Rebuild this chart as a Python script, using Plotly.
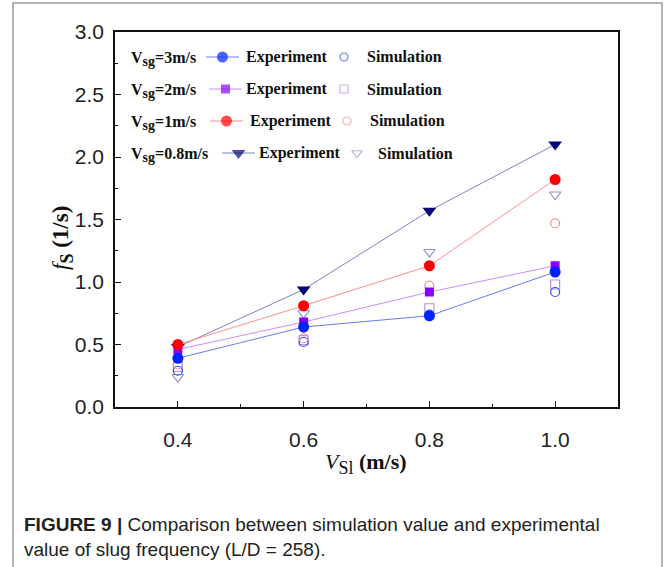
import plotly.graph_objects as go

# ---------------- data ----------------
vsl = [0.4, 0.6, 0.8, 1.0]

exp_vsg3 = [0.39, 0.64, 0.73, 1.08]
sim_vsg3 = [0.29, 0.52, 0.74, 0.92]

exp_vsg2 = [0.46, 0.68, 0.92, 1.13]
sim_vsg2 = [0.32, 0.535, 0.79, 0.98]

exp_vsg1 = [0.50, 0.81, 1.13, 1.82]
sim_vsg1 = [0.34, 0.55, 0.97, 1.47]

exp_vsg08 = [0.48, 0.94, 1.57, 2.10]
sim_vsg08 = [0.24, 0.75, 1.24, 1.70]

legend_vsg = ["3m/s", "2m/s", "1m/s", "0.8m/s"]

x_ticks = [0.4, 0.6, 0.8, 1.0]
y_ticks = [0.0, 0.5, 1.0, 1.5, 2.0, 2.5, 3.0]

# ---------------- styles ----------------
W_FIG, H_FIG = 665, 567
L, R, T, B = 115, 618, 32, 407
SERIF = "Liberation Serif, Times New Roman, serif"
SANS = "Liberation Sans, Arial, sans-serif"

series = [
    dict(exp=exp_vsg08, sim=sim_vsg08, sym="triangle-down", osym="triangle-down-open",
         mc="#05057a", lc="#8181c4", sc="#8f8fc6", ms=12, oms=10),
    dict(exp=exp_vsg2, sim=sim_vsg2, sym="square", osym="square-open",
         mc="#8a00ff", lc="#c98cff", sc="#b98ee6", ms=9, oms=9),
    dict(exp=exp_vsg3, sim=sim_vsg3, sym="circle", osym="circle-open",
         mc="#0022ff", lc="#6a7cf2", sc="#2d4cff", ms=11, oms=9),
    dict(exp=exp_vsg1, sim=sim_vsg1, sym="circle", osym="circle-open",
         mc="#ff0000", lc="#ff8f8f", sc="#f08a8a", ms=11, oms=9),
]

fig = go.Figure()

for s in series:
    fig.add_trace(go.Scatter(x=vsl, y=s["sim"], mode="markers", showlegend=False,
                             marker=dict(symbol=s["osym"], size=s["oms"], color=s["sc"],
                                         line=dict(width=1.2, color=s["sc"]))))
for s in series:
    fig.add_trace(go.Scatter(x=vsl, y=s["exp"], mode="lines+markers", showlegend=False,
                             line=dict(color=s["lc"], width=1),
                             marker=dict(symbol=s["sym"], size=s["ms"], color=s["mc"],
                                         line=dict(width=0))))


def px(x):
    return (x - L) / (R - L)


def py(y):
    return (B - y) / (B - T)


# ---------------- legend ----------------
leg_rows = [
    dict(si=2, y=57, lx0=206, lx1=239, ex=244, ox=344, sx=365),
    dict(si=1, y=89, lx0=209, lx1=242, ex=244, ox=344, sx=365),
    dict(si=3, y=121, lx0=210, lx1=243, ex=248, ox=347, sx=368),
    dict(si=0, y=153, lx0=222, lx1=255, ex=257, ox=357, sx=376),
]
annotations = []
shapes = []
LEG_FONT = dict(family=SERIF, size=16, color="#111")
key_x, key_y, key_sym, key_col, key_size = [], [], [], [], []
okey_x, okey_y, okey_sym, okey_col, okey_size = [], [], [], [], []
for lab, row in zip(legend_vsg, leg_rows):
    s = series[row["si"]]
    shapes.append(dict(type="line", xref="paper", yref="paper", layer="below",
                       x0=px(row["lx0"]), x1=px(row["lx1"]),
                       y0=py(row["y"]), y1=py(row["y"]),
                       line=dict(color=s["lc"], width=1)))
    key_x.append((row["lx0"] + row["lx1"]) / 2)
    key_y.append(row["y"])
    key_sym.append(s["sym"])
    key_col.append(s["mc"])
    key_size.append(s["ms"])
    okey_x.append(row["ox"])
    okey_y.append(row["y"])
    okey_sym.append(s["osym"])
    okey_col.append(s["sc"])
    okey_size.append(s["oms"] - 1)
    annotations.append(dict(x=px(129), y=py(row["y"] + 2), xref="paper", yref="paper",
                            xanchor="left", yanchor="middle", showarrow=False,
                            text="<b>V<sub><span style='font-size:14px'>sg</span></sub>=" + lab + "</b>",
                            font=LEG_FONT))
    annotations.append(dict(x=px(row["ex"]), y=py(row["y"]), xref="paper", yref="paper",
                            xanchor="left", yanchor="middle", showarrow=False,
                            text="<b>Experiment</b>", font=LEG_FONT))
    annotations.append(dict(x=px(row["sx"]), y=py(row["y"]), xref="paper", yref="paper",
                            xanchor="left", yanchor="middle", showarrow=False,
                            text="<b>Simulation</b>", font=LEG_FONT))

fig.add_trace(go.Scatter(x=key_x, y=key_y, mode="markers", xaxis="x2", yaxis="y2",
                         marker=dict(symbol=key_sym, size=key_size, color=key_col,
                                     line=dict(width=0)),
                         showlegend=False, hoverinfo="skip"))
fig.add_trace(go.Scatter(x=okey_x, y=okey_y, mode="markers", xaxis="x2", yaxis="y2",
                         marker=dict(symbol=okey_sym, size=okey_size, color=okey_col,
                                     line=dict(width=1.2, color=okey_col)),
                         showlegend=False, hoverinfo="skip"))

# axis titles
annotations.append(dict(x=px(62), y=py(238), xref="paper", yref="paper", showarrow=False,
                        textangle=-90, xanchor="center", yanchor="middle",
                        text="<i>f</i><sub><b><span style='font-size:18px'>S</span></b></sub> <b>(1/s)</b>",
                        font=dict(family=SERIF, size=23, color="#111")))
annotations.append(dict(x=px(366), y=py(464), xref="paper", yref="paper", showarrow=False,
                        xanchor="center", yanchor="middle",
                        text="<i>V</i><sub><span style='font-size:18px'>Sl</span></sub> <b>(m/s)</b>",
                        font=dict(family=SERIF, size=22, color="#111")))
# caption
annotations.append(dict(x=px(22), y=py(524), xref="paper", yref="paper", showarrow=False,
                        xanchor="left", yanchor="middle",
                        text="<b>FIGURE 9 |</b> Comparison between simulation value and experimental",
                        font=dict(family=SANS, size=19, color="#222")))
annotations.append(dict(x=px(22), y=py(549), xref="paper", yref="paper", showarrow=False,
                        xanchor="left", yanchor="middle",
                        text="value of slug frequency (L/D = 258).",
                        font=dict(family=SANS, size=19, color="#222")))

shapes.append(dict(type="rect", xref="paper", yref="paper", x0=px(13), x1=px(662),
                   y0=py(600), y1=py(3), line=dict(color="#9a9a9a", width=1.5),
                   fillcolor="rgba(0,0,0,0)", layer="below"))

fig.update_layout(
    width=W_FIG, height=H_FIG,
    margin=dict(l=L, r=W_FIG - R, t=T, b=H_FIG - B, pad=0),
    paper_bgcolor="white", plot_bgcolor="rgba(0,0,0,0)",
    showlegend=False,
    xaxis=dict(range=[0.3, 1.1], tickvals=x_ticks, ticktext=[f"{v:.1f}" for v in x_ticks],
               ticks="inside", ticklen=6, tickwidth=1.2, tickcolor="#111",
               minor=dict(tickvals=[0.5, 0.7, 0.9], ticks="inside", ticklen=3,
                          tickcolor="#111", tickwidth=1.2),
               showline=True, linecolor="#111", linewidth=1.5, mirror=True,
               showgrid=False, zeroline=False, ticklabelstandoff=13,
               tickfont=dict(family=SANS, size=21, color="#222")),
    yaxis=dict(range=[0, 3.0], tickvals=y_ticks, ticktext=[f"{v:.1f}" for v in y_ticks],
               ticks="inside", ticklen=6, tickwidth=1.2, tickcolor="#111",
               minor=dict(tickvals=[0.25, 0.75, 1.25, 1.75, 2.25, 2.75], ticks="inside",
                          ticklen=3, tickcolor="#111", tickwidth=1.2),
               showline=True, linecolor="#111", linewidth=1.5, mirror=True,
               showgrid=False, zeroline=False, ticklabelstandoff=5,
               tickfont=dict(family=SANS, size=21, color="#222")),
    xaxis2=dict(range=[L, R], overlaying="x", visible=False, anchor="y2",
                showticklabels=False, ticks="", showgrid=False, zeroline=False),
    yaxis2=dict(range=[B, T], overlaying="y", visible=False, anchor="x2",
                showticklabels=False, ticks="", showgrid=False, zeroline=False),
    annotations=annotations,
    shapes=shapes,
)

fig.write_html("out.html")
